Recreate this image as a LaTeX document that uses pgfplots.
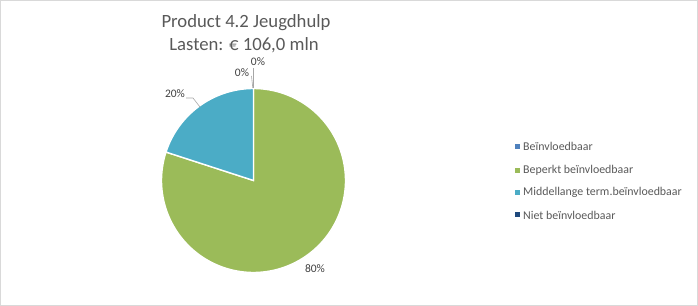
\documentclass[border=0pt]{standalone}
\usepackage{pgfplots}
\pgfplotsset{compat=1.18}
\usepackage{fontspec}
\setmainfont{Carlito}
\definecolor{cA}{HTML}{4F81BD}
\definecolor{cB}{HTML}{9BBB59}
\definecolor{cC}{HTML}{4BACC6}
\definecolor{cD}{HTML}{1F497D}
\definecolor{txt}{HTML}{595959}
\definecolor{lbl}{HTML}{404040}
\definecolor{lead}{HTML}{A6A6A6}
% shares (percent), in legend order
\def\pA{0}\def\pB{80}\def\pC{20}\def\pD{0}
\def\cx{253.5}\def\cy{125.5}\def\rr{92}
\begin{document}
\begin{tikzpicture}
\pgfmathsetmacro{\aA}{90}
\pgfmathsetmacro{\aB}{\aA-3.6*\pA}
\pgfmathsetmacro{\aC}{\aB-3.6*\pB}
\pgfmathsetmacro{\aD}{\aC-3.6*\pC}
\pgfmathsetmacro{\aE}{\aD-3.6*\pD}
\begin{axis}[
  width=698bp, height=306bp, scale only axis,
  xmin=0, xmax=698, ymin=0, ymax=306,
  axis lines=none, clip=false,
]
% slices
\addplot[fill=cB, draw=white, line width=1.4bp, domain=\aC:\aB, samples=120, variable=\t]
  ({\cx+\rr*cos(t)},{\cy+\rr*sin(t)}) -- (axis cs:\cx,\cy) -- cycle;
\addplot[fill=cC, draw=white, line width=1.4bp, domain=\aD:\aC, samples=60, variable=\t]
  ({\cx+\rr*cos(t)},{\cy+\rr*sin(t)}) -- (axis cs:\cx,\cy) -- cycle;
% leader lines
\draw[lead, line width=0.6bp] (axis cs:186,208) -- (axis cs:193,208) -- (axis cs:200,199);
\draw[lead, line width=0.6bp] (axis cs:253.3,238) -- (axis cs:253.3,218);
\draw[lead, line width=0.6bp] (axis cs:251.5,230) -- (axis cs:252.8,218);
% data labels
\node[lbl, font=\fontsize{11.5bp}{13bp}\selectfont] at (axis cs:258,244) {0\%};
\node[lbl, font=\fontsize{11.5bp}{13bp}\selectfont] at (axis cs:242,233) {0\%};
\node[lbl, font=\fontsize{11.5bp}{13bp}\selectfont] at (axis cs:175,212) {20\%};
\node[lbl, font=\fontsize{11.5bp}{13bp}\selectfont] at (axis cs:315,37) {80\%};
% title
\node[txt, font=\fontsize{18.7bp}{22bp}\selectfont] at (axis cs:246,283) {Product 4.2 Jeugdhulp};
\node[txt, font=\fontsize{18.7bp}{22bp}\selectfont] at (axis cs:244,261) {Lasten: € 106,0 mln};
% legend
\fill[cA] (axis cs:514.5,156.8) rectangle (axis cs:519.5,161.8);
\fill[cB] (axis cs:514.5,132.8) rectangle (axis cs:519.5,137.8);
\fill[cC] (axis cs:514.5,111.2) rectangle (axis cs:519.5,116.2);
\fill[cD] (axis cs:514.5,88.5) rectangle (axis cs:519.5,93.5);
\node[txt, anchor=west, inner sep=0pt, font=\fontsize{11.9bp}{13bp}\selectfont] at (axis cs:523,159.3) {Beïnvloedbaar};
\node[txt, anchor=west, inner sep=0pt, font=\fontsize{11.9bp}{13bp}\selectfont] at (axis cs:523,135.3) {Beperkt beïnvloedbaar};
\node[txt, anchor=west, inner sep=0pt, font=\fontsize{11.9bp}{13bp}\selectfont] at (axis cs:523,113.7) {Middellange term.beïnvloedbaar};
\node[txt, anchor=west, inner sep=0pt, font=\fontsize{11.9bp}{13bp}\selectfont] at (axis cs:523,91) {Niet beïnvloedbaar};
% chart border
\draw[color=black!15, line width=1bp] (axis cs:0.5,0.5) rectangle (axis cs:697.5,305.5);
\end{axis}
\pgfresetboundingbox
\path (current axis.south west) rectangle (current axis.north east);
\end{tikzpicture}
\end{document}
